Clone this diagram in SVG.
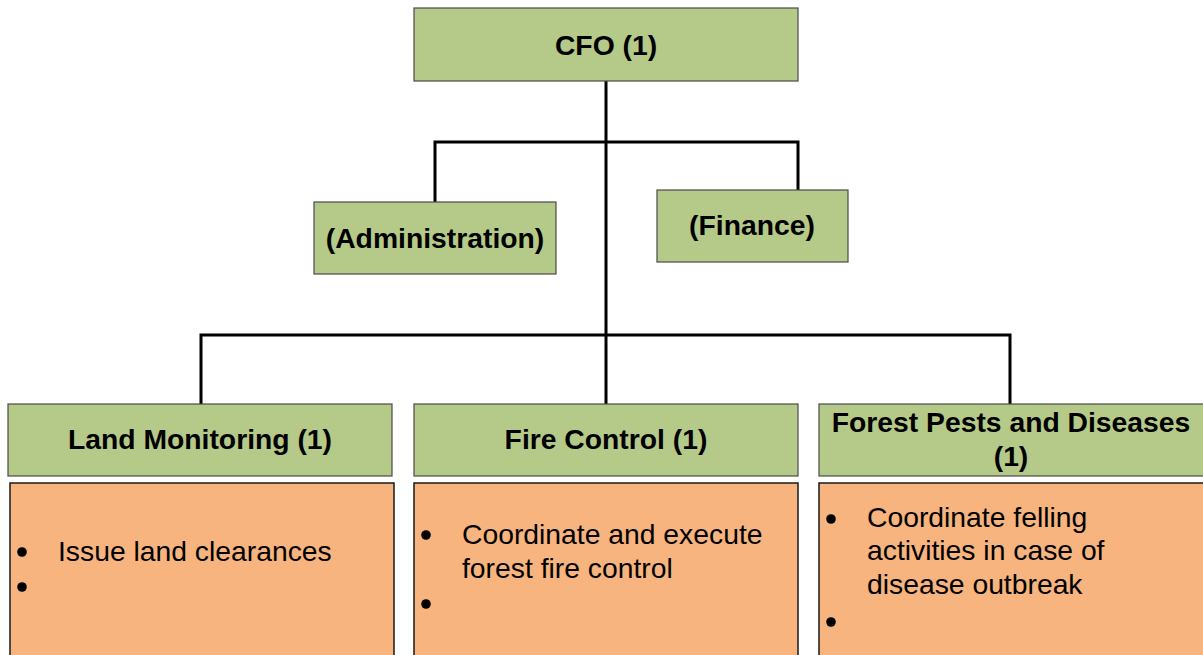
<svg xmlns="http://www.w3.org/2000/svg" width="1203" height="655" viewBox="0 0 1203 655">
<style>
.g{fill:#B5CA88;stroke:#4a4a4a;stroke-width:1.2}
.o{fill:#F7B47E;stroke:#1a1a1a;stroke-width:1.5}
.h{font-family:"Liberation Sans",Arial,sans-serif;font-weight:bold;font-size:28.3px;fill:#000;text-anchor:middle}
.t{font-family:"Liberation Sans",Arial,sans-serif;font-size:28.3px;fill:#000}
.c{fill:none;stroke:#000;stroke-width:3}
</style>
<rect width="1203" height="655" fill="#fff"/>
<g id="connectors">
<path class="c" d="M606 81V404"/>
<path class="c" d="M435 202V142H798V190"/>
<path class="c" d="M201 404V335H1010V404"/>
</g>
<g id="cfo"><rect class="g" x="414" y="8" width="384" height="73"/><text class="h" x="606" y="55">CFO (1)</text></g>
<g id="admin"><rect class="g" x="314" y="202" width="242" height="72"/><text class="h" x="435" y="248">(Administration)</text></g>
<g id="finance"><rect class="g" x="657" y="190" width="191" height="72"/><text class="h" x="752" y="235">(Finance)</text></g>
<g id="land"><rect class="g" x="8" y="404" width="384" height="72"/><text class="h" x="200" y="449">Land Monitoring (1)</text></g>
<g id="fire"><rect class="g" x="414" y="404" width="384" height="72"/><text class="h" x="606" y="449">Fire Control (1)</text></g>
<g id="pests"><rect class="g" x="819" y="404" width="386" height="72"/><text class="h" x="1011" y="432">Forest Pests and Diseases</text><text class="h" x="1011" y="466">(1)</text></g>
<g id="land-duties"><rect class="o" x="10" y="483" width="384" height="180"/>
<circle cx="22" cy="552" r="4.8"/><text class="t" x="58" y="561">Issue land clearances</text>
<circle cx="22" cy="587" r="4.8"/></g>
<g id="fire-duties"><rect class="o" x="414" y="483" width="384" height="180"/>
<circle cx="426" cy="535" r="4.8"/><text class="t" x="462" y="544">Coordinate and execute</text><text class="t" x="462" y="578">forest fire control</text>
<circle cx="426" cy="604" r="4.8"/></g>
<g id="pests-duties"><rect class="o" x="819" y="483" width="386" height="180"/>
<circle cx="831" cy="519" r="4.8"/><text class="t" x="867" y="527">Coordinate felling</text><text class="t" x="867" y="560">activities in case of</text><text class="t" x="867" y="594">disease outbreak</text>
<circle cx="831" cy="622" r="4.8"/></g>
</svg>
